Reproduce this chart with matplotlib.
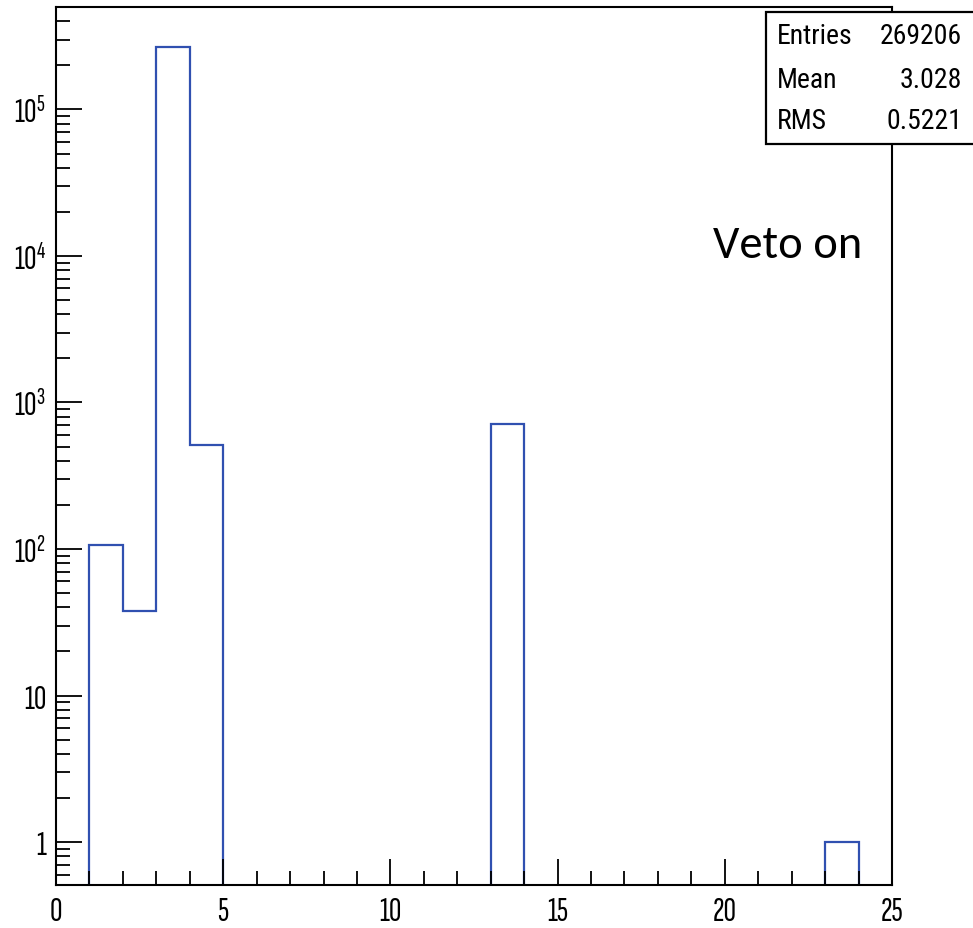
import numpy as np
import matplotlib
matplotlib.use("Agg")
import matplotlib.pyplot as plt
from matplotlib.patches import Rectangle
from matplotlib.ticker import FixedLocator, FixedFormatter, NullFormatter

# ---- data ----
bin_edges = list(range(0, 26))
counts = [0, 106, 38, 267836, 515, 0, 0, 0, 0, 0, 0, 0, 0, 713, 0,
          0, 0, 0, 0, 0, 0, 0, 0, 1, 0]
x_ticks = [0, 5, 10, 15, 20, 25]
x_tick_labels = ["0", "5", "10", "15", "20", "25"]
y_ticks = [1, 10, 100, 1000, 10000, 100000]
y_tick_labels = ["1", "10", r"$\mathregular{10^{2}}$", r"$\mathregular{10^{3}}$",
                 r"$\mathregular{10^{4}}$", r"$\mathregular{10^{5}}$"]
stat_names = ["Entries", "Mean", "RMS"]
stat_values = ["269206", "3.028", "0.5221"]
annotation = "Veto on"

W, H = 973, 929
tick_fam = ["Sofia Sans Extra Condensed", "Roboto Condensed", "Liberation Sans", "DejaVu Sans"]
stat_fam = ["Roboto Condensed", "Liberation Sans", "DejaVu Sans"]
plt.rcParams['font.family'] = tick_fam
plt.rcParams['mathtext.fontset'] = 'custom'
plt.rcParams['mathtext.rm'] = 'Sofia Sans Extra Condensed'

fig = plt.figure(figsize=(W / 100, H / 100), dpi=100)
ax = fig.add_axes([56 / W, (H - 886) / H, (892 - 56) / W, (886 - 8) / H])

ax.stairs(counts, bin_edges, color="#3050b0", linewidth=1.6, baseline=None)

ax.set_yscale("log", nonpositive="clip")
ax.set_xlim(0, 25)
ax.set_ylim(0.509, 5.0e5)

ax.xaxis.set_major_locator(FixedLocator(x_ticks))
ax.xaxis.set_major_formatter(FixedFormatter(x_tick_labels))
ax.xaxis.set_minor_locator(FixedLocator(range(0, 26)))
ax.xaxis.set_minor_formatter(NullFormatter())

ax.yaxis.set_major_locator(FixedLocator(y_ticks))
ax.yaxis.set_major_formatter(FixedFormatter(y_tick_labels))
minor_y = [m * 10.0 ** e for e in range(-1, 6) for m in range(2, 10)]
ax.yaxis.set_minor_locator(FixedLocator(minor_y))
ax.yaxis.set_minor_formatter(NullFormatter())

ax.tick_params(axis="both", which="major", direction="in", length=19, width=1.3,
               labelsize=25, color="black")
ax.tick_params(axis="both", which="minor", direction="in", length=10, width=1.3,
               color="black")
ax.tick_params(axis="x", which="both", top=False, pad=8)
ax.tick_params(axis="y", which="both", right=False, pad=7)

for s in ax.spines.values():
    s.set_linewidth(1.5)
    s.set_color("black")

# stats box
bx0, by_top, by_bot = 766, 13, 145
rect = Rectangle((bx0 / W, (H - by_bot) / H), (W + 20 - bx0) / W, (by_bot - by_top) / H,
                 transform=fig.transFigure, facecolor="white", edgecolor="black",
                 linewidth=1.6, clip_on=False, zorder=5)
fig.patches.append(rect)
row_y = [37, 80, 122]
for name, val, ry in zip(stat_names, stat_values, row_y):
    fig.text(777 / W, (H - ry) / H, name, fontsize=20, ha="left", va="center",
             zorder=6, family=stat_fam)
    fig.text(962 / W, (H - ry) / H, val, fontsize=20, ha="right", va="center",
             zorder=6, family=stat_fam)

fig.text(713 / W, (H - 258) / H, annotation, fontsize=33.5, ha="left", va="baseline",
         family=["Carlito", "Lato", "DejaVu Sans"])

fig.savefig("out.png", dpi=100)
